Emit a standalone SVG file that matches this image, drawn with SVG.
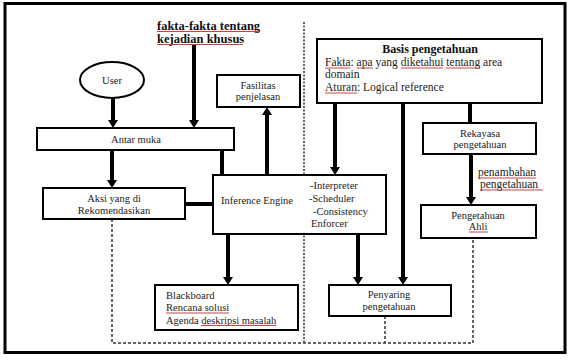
<svg xmlns="http://www.w3.org/2000/svg" width="571" height="360" viewBox="0 0 571 360">
<style>
  .box{fill:#fff;stroke:#000;stroke-width:2}
  .t{font-family:"Liberation Serif","Times New Roman",serif;font-size:10.5px;fill:#222}
  .tb{font-family:"Liberation Serif","Times New Roman",serif;font-size:12.5px;font-weight:bold;fill:#111}
  .tt{font-family:"Liberation Serif","Times New Roman",serif;font-size:12px;font-weight:bold;fill:#111}
  .tm{font-family:"Liberation Serif","Times New Roman",serif;font-size:11.5px;fill:#222}
  .c{text-anchor:middle}
  .thick{stroke:#000;stroke-width:4;fill:none}
  .dot{stroke:#333;stroke-width:1.5;fill:none;stroke-dasharray:2 1.5}
  .dash{stroke:#333;stroke-width:1.5;fill:none;stroke-dasharray:3 2}
  .ul{stroke:#d04040;stroke-width:1;fill:none}
</style>
<defs>
  <marker id="arr" viewBox="0 0 8 10" refX="0" refY="5" markerWidth="8" markerHeight="10" markerUnits="userSpaceOnUse" orient="auto">
    <path d="M0,0 L8,5 L0,10 z" fill="#000"/>
  </marker>
</defs>
<rect width="571" height="360" fill="#fff"/>
<rect x="5" y="3.5" width="560" height="349" fill="none" stroke="#000" stroke-width="3"/>

<g id="connectors">
  <line class="dot" x1="304" y1="22" x2="304" y2="343"/>
  <polyline class="dash" points="112,219 112,343 473,343 473,238"/>
  <line class="dash" x1="385" y1="316" x2="385" y2="343"/>
  <line class="thick" x1="113" y1="98" x2="113" y2="120" marker-end="url(#arr)"/>
  <line class="thick" x1="194" y1="45" x2="194" y2="120" marker-end="url(#arr)"/>
  <line class="thick" x1="112" y1="150" x2="112" y2="180" marker-end="url(#arr)"/>
  <line class="thick" x1="222" y1="150" x2="222" y2="175"/>
  <line class="thick" x1="185" y1="204" x2="213" y2="204"/>
  <line class="thick" x1="267" y1="175" x2="267" y2="115" marker-end="url(#arr)"/>
  <line class="thick" x1="335" y1="103" x2="335" y2="167" marker-end="url(#arr)"/>
  <line class="thick" x1="403" y1="103" x2="403" y2="277" marker-end="url(#arr)"/>
  <line class="thick" x1="470" y1="103" x2="470" y2="123"/>
  <line class="thick" x1="471" y1="155" x2="471" y2="197" marker-end="url(#arr)"/>
  <line class="thick" x1="228" y1="234" x2="228" y2="277" marker-end="url(#arr)"/>
  <line class="thick" x1="358" y1="234" x2="358" y2="277" marker-end="url(#arr)"/>
</g>

<g id="fakta-label">
  <text class="tb" x="157" y="29.5">fakta-fakta tentang</text>
  <text class="tb" x="157" y="42.5">kejadian khusus</text>
  <line class="ul" x1="157" y1="31.5" x2="260" y2="31.5"/>
  <line class="ul" x1="157" y1="44.5" x2="243" y2="44.5"/>
</g>

<g id="user">
  <ellipse cx="112" cy="80" rx="32" ry="18" class="box"/>
  <text class="t c" x="112" y="83.5">User</text>
</g>

<g id="antar-muka">
  <rect class="box" x="37" y="128" width="197" height="22"/>
  <text class="t c" x="136" y="142.5">Antar muka</text>
</g>

<g id="fasilitas">
  <rect class="box" x="217" y="75" width="83" height="32"/>
  <text class="t c" x="258" y="88.5">Fasilitas</text>
  <text class="t c" x="258" y="99.5">penjelasan</text>
</g>

<g id="aksi">
  <rect class="box" x="43" y="188" width="142" height="31"/>
  <text class="t c" x="114" y="202">Aksi yang di</text>
  <text class="t c" x="114" y="214">Rekomendasikan</text>
</g>

<g id="inference-engine">
  <rect class="box" x="213" y="175" width="173" height="59"/>
  <text class="t" x="221" y="203.5">Inference Engine</text>
  <text class="t" x="310" y="188.5">-Interpreter</text>
  <text class="t" x="309" y="201.5">-Scheduler</text>
  <text class="t" x="313" y="214.5">-Consistency</text>
  <text class="t" x="311" y="227">Enforcer</text>
</g>

<g id="basis-pengetahuan">
  <rect class="box" x="317" y="39" width="225" height="64"/>
  <text class="tt c" x="430" y="53">Basis pengetahuan</text>
  <text class="tm" x="325" y="66">Fakta: apa yang diketahui tentang area</text>
  <text class="tm" x="325" y="78">domain</text>
  <text class="tm" x="325" y="91">Aturan: Logical reference</text>
  <line class="ul" x1="325" y1="68" x2="350" y2="68"/>
  <line class="ul" x1="357" y1="68" x2="373" y2="68"/>
  <line class="ul" x1="401" y1="68" x2="443" y2="68"/>
  <line class="ul" x1="446" y1="68" x2="480" y2="68"/>
  <line class="ul" x1="325" y1="93" x2="357" y2="93"/>
</g>

<g id="rekayasa">
  <rect class="box" x="423" y="123" width="113" height="31"/>
  <text class="t c" x="480" y="136.5">Rekayasa</text>
  <text class="t c" x="480" y="148">pengetahuan</text>
</g>

<g id="penambahan-label">
  <text class="tm" x="478" y="176">penambahan</text>
  <text class="tm" x="480" y="188">pengetahuan</text>
  <line class="ul" x1="478" y1="178" x2="536" y2="178"/>
  <line class="ul" x1="480" y1="190" x2="543" y2="190"/>
</g>

<g id="pengetahuan-ahli">
  <rect class="box" x="421" y="205" width="115" height="33"/>
  <text class="t c" x="478" y="218.5">Pengetahuan</text>
  <text class="t c" x="478" y="230">Ahli</text>
  <line class="ul" x1="469" y1="232" x2="488" y2="232"/>
</g>

<g id="blackboard">
  <rect class="box" x="155" y="285" width="143" height="45"/>
  <text class="t" x="166" y="298.5">Blackboard</text>
  <text class="t" x="166" y="311">Rencana solusi</text>
  <text class="t" x="166" y="323.5">Agenda deskripsi masalah</text>
  <line class="ul" x1="166" y1="313" x2="229" y2="313"/>
  <line class="ul" x1="201" y1="325.5" x2="276" y2="325.5"/>
</g>

<g id="penyaring">
  <rect class="box" x="329" y="285" width="122" height="31"/>
  <text class="t c" x="389" y="297.5">Penyaring</text>
  <text class="t c" x="389" y="309.5">pengetahuan</text>
</g>
</svg>
